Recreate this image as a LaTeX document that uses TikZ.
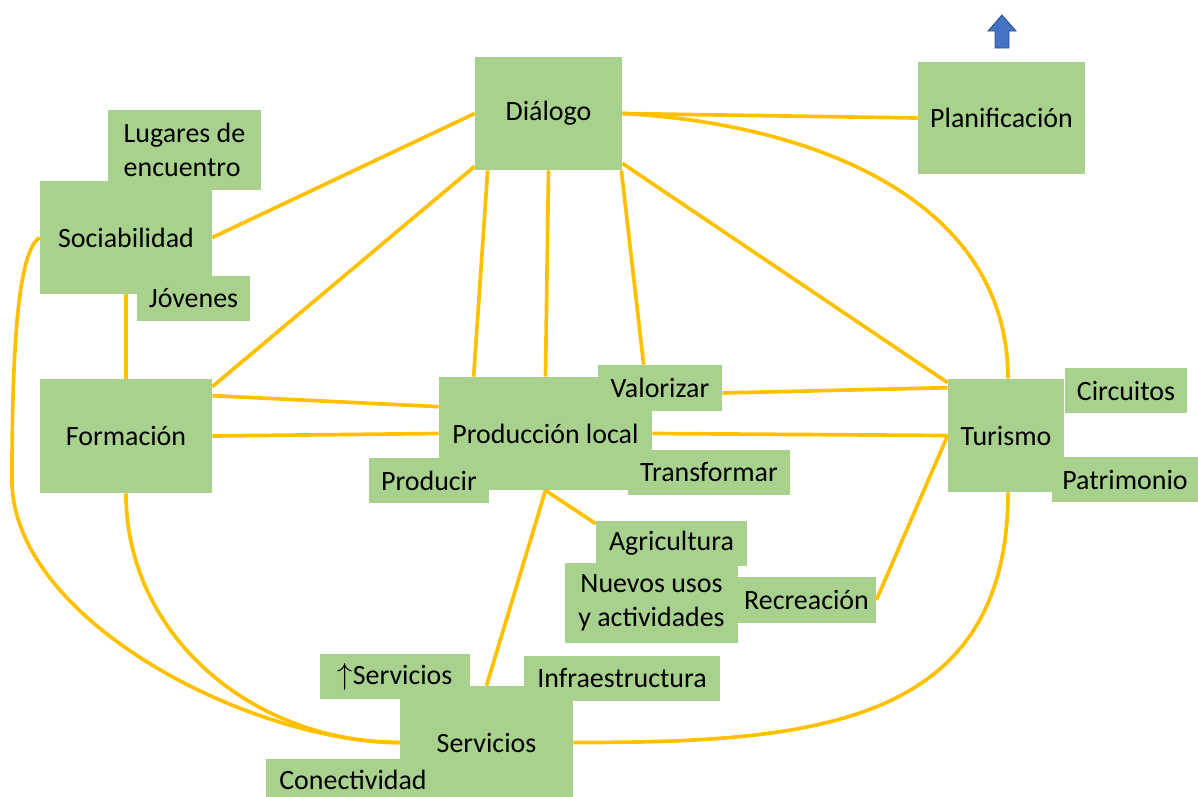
\documentclass[tikz,border=0pt]{standalone}
\usepackage{fontspec}
\setmainfont{Carlito}
\usepackage{tikz}
\usetikzlibrary{calc}
\definecolor{boxgreen}{HTML}{A9D18E}
\definecolor{linegold}{HTML}{FFC000}
\definecolor{arrowblue}{HTML}{4472C4}
\definecolor{arrowedge}{HTML}{2F528F}

\begin{document}
\begin{tikzpicture}[
    x=0.02cm, y=-0.02cm,
    every node/.style={font=\fontsize{15.9}{19.3}\selectfont, text=black},
    box/.style={fill=boxgreen, inner sep=0pt},
    link/.style={draw=linegold, line width=2.1pt}
]
\clip (0,0) rectangle (1198,796);

\node[box, minimum width=2.94cm, minimum height=2.26cm] (dlg)  at (548.5,113.5) {Diálogo};
\node[box, minimum width=3.34cm, minimum height=2.24cm] (plan) at (1001.5,118)  {Planificación};
\node[box, minimum width=3.06cm, minimum height=1.60cm, align=left] (lug) at (184.5,150) {Lugares de\\encuentro};
\node[box, minimum width=3.44cm, minimum height=2.26cm] (soc)  at (126,237.5)   {Sociabilidad};
\node[box, minimum width=2.26cm, minimum height=0.90cm] (jov)  at (193.5,298.5) {Jóvenes};
\node[box, minimum width=3.44cm, minimum height=2.28cm] (form) at (126,436)     {Formación};
\node[box, minimum width=4.26cm, minimum height=2.26cm] (prod) at (545.5,433.5) {Producción local};
\node[box, minimum width=2.48cm, minimum height=0.92cm] (val)  at (660,388)     {Valorizar};
\node[box, minimum width=2.40cm, minimum height=0.90cm] (prd)  at (429,480.5)   {Producir};
\node[box, minimum width=3.24cm, minimum height=0.90cm] (trf)  at (709,472.5)   {Transformar};
\node[box, minimum width=3.02cm, minimum height=0.90cm] (agr)  at (671.5,543.5) {Agricultura};
\node[box, minimum width=3.46cm, minimum height=1.60cm, align=center] (nue) at (651.5,603) {Nuevos usos\\y actividades};
\node[box, minimum width=2.78cm, minimum height=0.92cm] (rec)  at (806.5,600)   {Recreación};
\node[box, minimum width=2.32cm, minimum height=2.26cm] (tur)  at (1006,435.5)  {Turismo};
\node[box, minimum width=2.44cm, minimum height=0.90cm] (cir)  at (1126,390.5)  {Circuitos};
\node[box, minimum width=2.92cm, minimum height=0.90cm] (pat)  at (1125,479.5)  {Patrimonio};
\node[box, minimum width=3.46cm, minimum height=2.26cm] (srv)  at (486.5,742.5) {Servicios};
\node[box, minimum width=3.00cm, minimum height=0.90cm] (upsrv) at (395,676.5)  {$\uparrow$Servicios};
\node[box, minimum width=3.92cm, minimum height=0.90cm] (inf)  at (622,678.5)   {Infraestructura};
\node[box, minimum width=3.48cm, minimum height=0.82cm] (con)  at (353,779.5)   {Conectividad};

\filldraw[fill=arrowblue, draw=arrowedge, line width=0.5pt]
  (995,48) -- (995,31) -- (988,31) -- (1002,15) -- (1016,31) -- (1009,31) -- (1009,48) -- cycle;

\draw[link] (dlg.west) -- (soc.east);
\draw[link] ($(dlg.south west)+(0,-4)$) -- ($(form.north east)+(0,8)$);
\draw[link] ($(dlg.south west)+(13,0)$) -- ($(prod.north west)+(35,0)$);
\draw[link] (dlg.south) -- (prod.north);
\draw[link] ($(dlg.south east)+(-1,0)$) -- ($(val.north west)+(46,0)$);
\draw[link] ($(dlg.south east)+(0,-7)$) -- ($(tur.north west)+(0,4)$);
\draw[link] (dlg.east) -- (plan.west);
\draw[link] (dlg.east) to[out=-3, in=90] ($(tur.north)+(2,0)$);
\draw[link] (soc.south) -- (form.north);
\draw[link] ($(form.north east)+(0,17)$) -- ($(prod.north west)+(0,30)$);
\draw[link] (form.east) -- (prod.west);
\draw[link] ($(val.east)+(0,5)$) -- ($(tur.north west)+(0,9)$);
\draw[link] (prod.east) -- (tur.west);
\draw[link] (tur.west) -- (rec.east);
\draw[link] (prod.south) -- ($(agr.north west)+(0,3)$);
\draw[link] (prod.south) -- (srv.north);
\draw[link] ($(tur.south)+(2,0)$) to[out=-90, in=0, looseness=1.2] (srv.east);
\draw[link] (form.south) to[out=-90, in=180] (srv.west);
\draw[link] (soc.west) .. controls (20,250) and (12,330) .. (12,480)
  .. controls (12,620) and (250,742) .. (srv.west);

\end{tikzpicture}
\end{document}
